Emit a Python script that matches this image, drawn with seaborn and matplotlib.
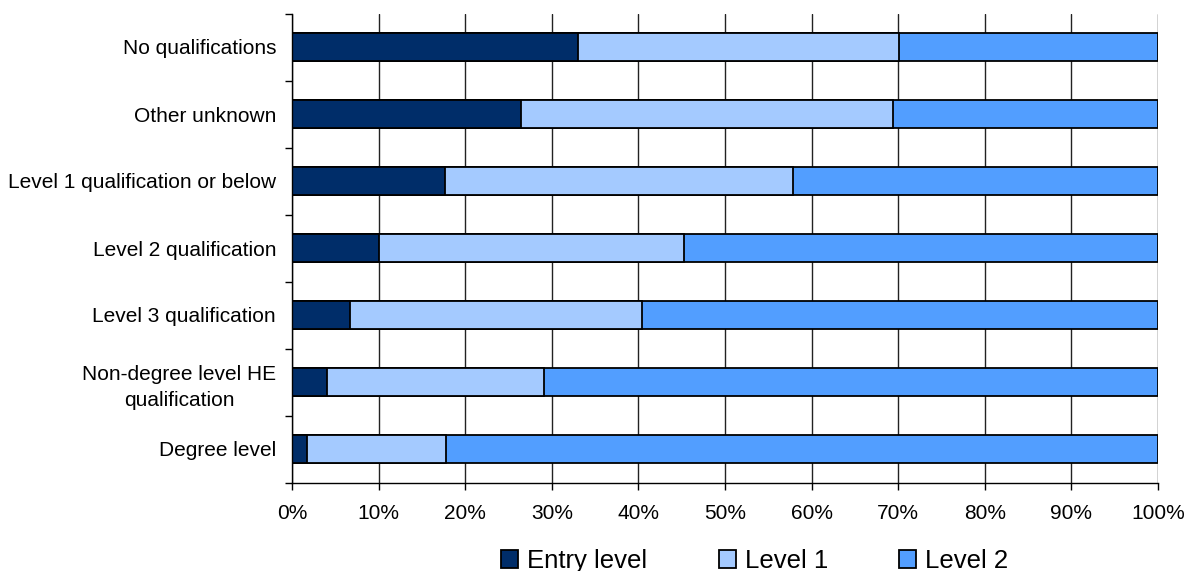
import matplotlib
matplotlib.use("Agg")
import matplotlib.pyplot as plt
import seaborn as sns
import pandas as pd
import numpy as np
from matplotlib.patches import Patch
from matplotlib.ticker import MultipleLocator, FixedLocator

categories = [
    "No qualifications",
    "Other unknown",
    "Level 1 qualification or below",
    "Level 2 qualification",
    "Level 3 qualification",
    "Non-degree level HE\nqualification",
    "Degree level",
]
entry_level = [33.0, 26.5, 17.7, 10.0, 6.7, 4.0, 1.7]
level_1 = [37.1, 42.9, 40.1, 35.3, 33.7, 25.1, 16.1]
level_2 = [29.9, 30.6, 42.2, 54.7, 59.6, 70.9, 82.2]

series_names = ["Entry level", "Level 1", "Level 2"]
colors = ["#002D69", "#A4CAFF", "#529EFF"]

df = pd.DataFrame({
    "category": categories,
    "Entry level": entry_level,
    "Level 1": level_1,
    "Level 2": level_2,
})
df["cum_entry"] = df["Entry level"]
df["cum_l1"] = df["cum_entry"] + df["Level 1"]
df["cum_l2"] = df["cum_l1"] + df["Level 2"]

sns.set_theme(style="white")
plt.rcParams["font.family"] = ["Liberation Sans", "DejaVu Sans"]

W, H = 1187, 571
fig = plt.figure(figsize=(W / 100, H / 100), dpi=100)
ax = fig.add_axes([292 / W, 1 - 482.5 / H, (1158 - 292) / W, (482.5 - 13.5) / H])

# stacked bars: draw cumulative totals back to front
for col, color in zip(["cum_l2", "cum_l1", "cum_entry"], colors[::-1]):
    sns.barplot(data=df, x=col, y="category", orient="h", color=color,
                width=0.42, edgecolor="black", linewidth=1.3, ax=ax,
                saturation=1)

ax.set_xlim(0, 100)
ax.set_ylim(6.5, -0.5)
ax.set_xlabel("")
ax.set_ylabel("")

ax.xaxis.set_major_locator(MultipleLocator(10))
ax.set_xticklabels([f"{int(v)}%" for v in ax.get_xticks()])
ax.grid(axis="x", color="#222222", linewidth=1.0)
ax.set_axisbelow(True)
ax.grid(axis="y", visible=False)

for s in ["top", "right"]:
    ax.spines[s].set_visible(False)
for s in ["left", "bottom"]:
    ax.spines[s].set_color("black")
    ax.spines[s].set_linewidth(1.0)

ax.tick_params(axis="x", which="major", direction="out", length=5, width=1,
               color="black", labelsize=15, pad=10.5, bottom=True)
ax.tick_params(axis="y", which="major", length=0, labelsize=15, pad=11.5)
ax.yaxis.set_minor_locator(FixedLocator(np.arange(-0.5, 7.0, 1.0)))
ax.tick_params(axis="y", which="minor", direction="out", length=5, width=1,
               color="black", left=True)

for lbl in ax.get_yticklabels():
    lbl.set_color("black")
    if "\n" in lbl.get_text():
        lbl.set_multialignment("center")
        lbl.set_linespacing(1.45)
for lbl in ax.get_xticklabels():
    lbl.set_color("black")

# legend entries laid out along the bottom
legend_x = [501, 719, 899]
for name, color, x in zip(series_names, colors, legend_x):
    leg = fig.legend([Patch(facecolor=color, edgecolor="black", linewidth=1.3)],
                     [name], loc="center left",
                     bbox_to_anchor=(x / W, 1 - 561 / H), frameon=False,
                     fontsize=18.5, handlelength=0.66, handleheight=0.66,
                     handletextpad=0.35, borderpad=0, borderaxespad=0)
    for t in leg.get_texts():
        t.set_color("black")

fig.savefig("out.png", dpi=100)
